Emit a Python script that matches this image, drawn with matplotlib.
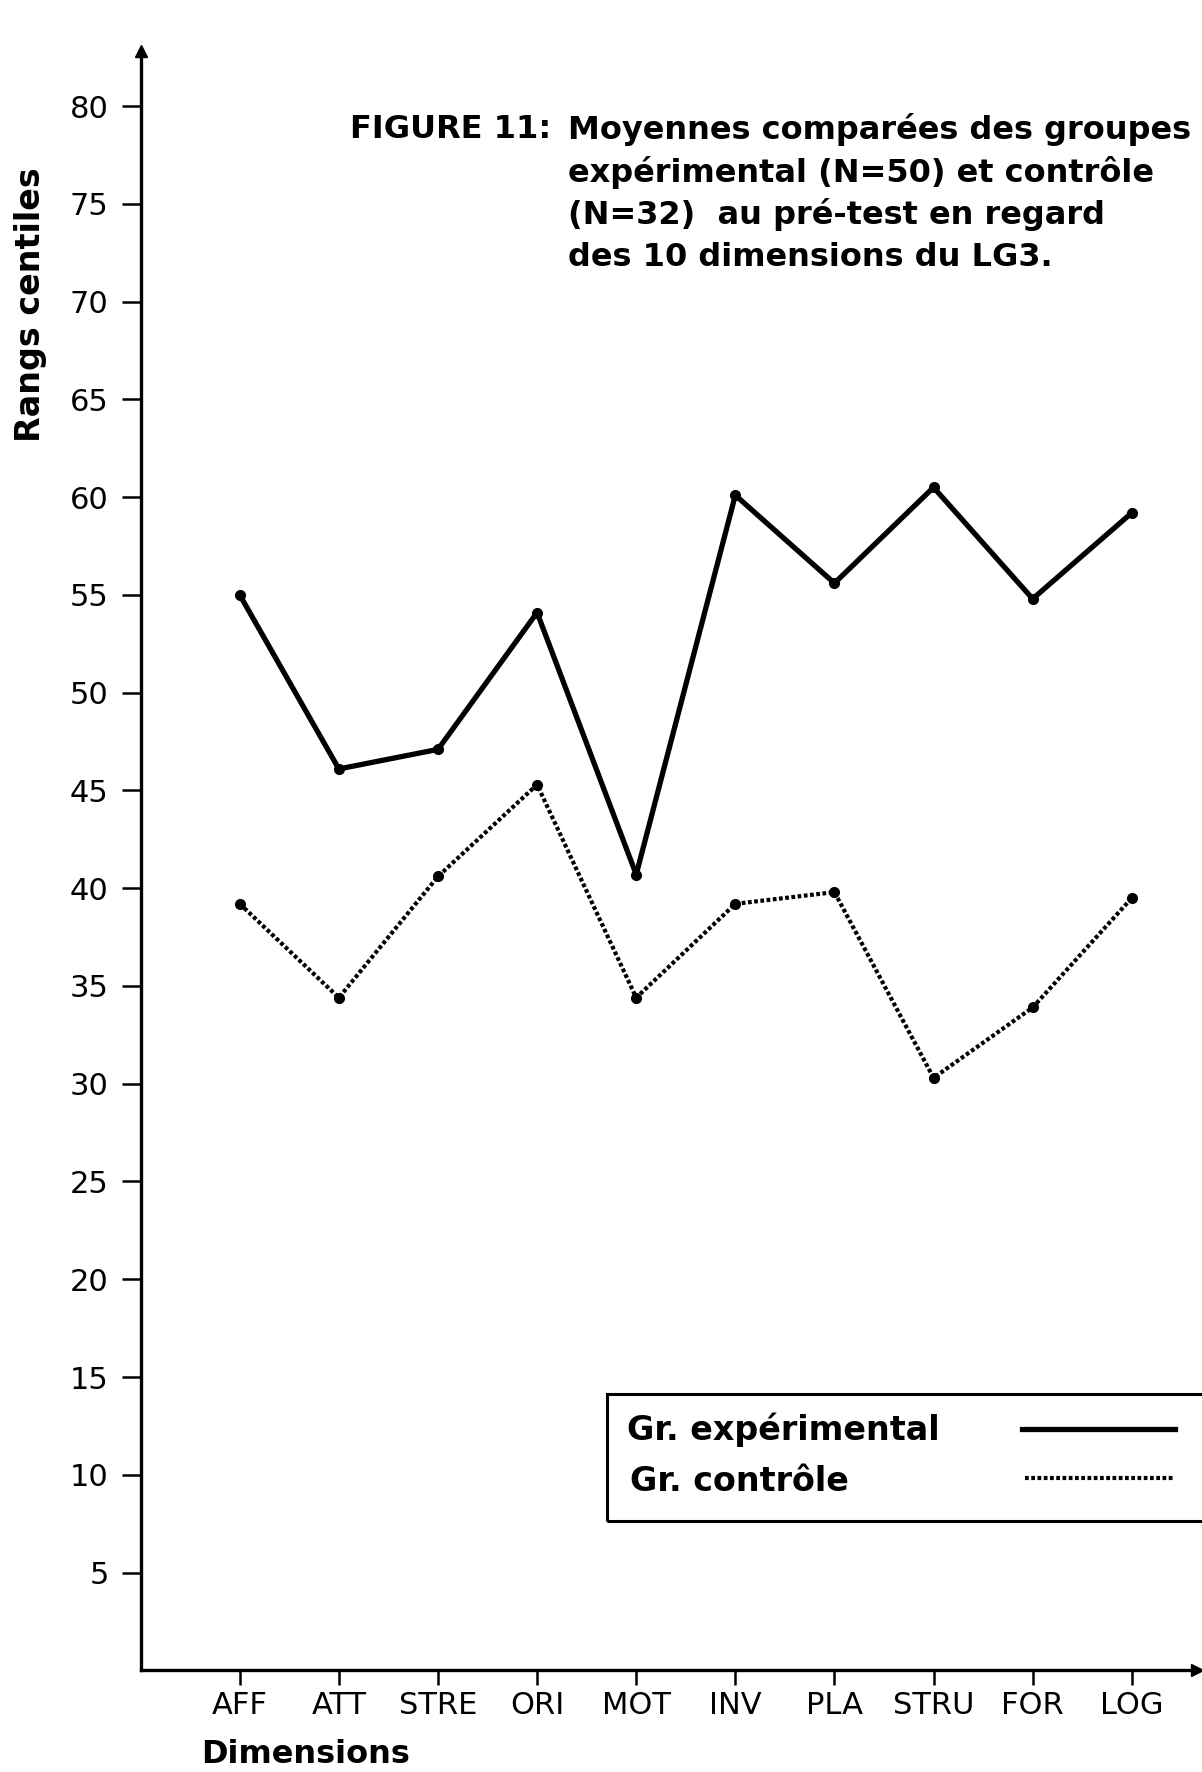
import matplotlib
matplotlib.use('Agg')
import matplotlib.pyplot as plt
from matplotlib.patches import Rectangle
from matplotlib.lines import Line2D

# data
dimensions = ['AFF', 'ATT', 'STRE', 'ORI', 'MOT', 'INV', 'PLA', 'STRU', 'FOR', 'LOG']
experimental = [55.0, 46.1, 47.1, 54.1, 40.7, 60.1, 55.6, 60.5, 54.8, 59.2]
controle = [39.2, 34.4, 40.6, 45.3, 34.4, 39.2, 39.8, 30.3, 33.9, 39.5]
yticks = [5, 10, 15, 20, 25, 30, 35, 40, 45, 50, 55, 60, 65, 70, 75, 80]

title_lines = ["Moyennes comparées des groupes",
               "expérimental (N=50) et contrôle",
               "(N=32)  au pré-test en regard",
               "des 10 dimensions du LG3."]

dots = (0, (0.9, 0.6))

fig = plt.figure(figsize=(12.02, 17.72), dpi=100)
ax = fig.add_axes([0.117, 0.0574, 0.879, 0.9136])

x = list(range(1, len(dimensions) + 1))
ax.plot(x, experimental, color='black', lw=3.8, marker='o', ms=7, solid_joinstyle='round')
ax.plot(x, controle, color='black', lw=3.0, linestyle=dots, marker='o', ms=7)

ax.set_xlim(0, 10.66)
ax.set_ylim(0, 82.8)
ax.set_xticks(x)
ax.set_xticklabels(dimensions, fontsize=22)
ax.set_yticks(yticks)
ax.set_yticklabels([str(v) for v in yticks], fontsize=22)
ax.tick_params(axis='y', direction='out', length=14, width=1.8, pad=9)
ax.tick_params(axis='x', direction='out', length=11, width=1.8, pad=4)

for s in ['top', 'right']:
    ax.spines[s].set_visible(False)
for s in ['left', 'bottom']:
    ax.spines[s].set_linewidth(2.4)

# arrow heads on the axes
ax.plot(0, 1, marker='^', color='black', ms=9, transform=ax.transAxes, clip_on=False)
ax.plot(1, 0, marker='>', color='black', ms=9, transform=ax.transAxes, clip_on=False)

# axis titles
fig.text(0.025, 0.828, "Rangs centiles", rotation=90, ha='center', va='center',
         fontsize=24, fontweight='bold')
fig.text(0.167, 0.0096, "Dimensions", ha='left', va='center',
         fontsize=23, fontweight='bold')

# figure caption
fig.text(0.2914, 0.9267, "FIGURE 11:", ha='left', va='center',
         fontsize=23, fontweight='bold')
for i, line in enumerate(title_lines):
    fig.text(0.4727, 0.9267 - i * 0.0240, line, ha='left', va='center',
             fontsize=23, fontweight='bold')

# legend box
fig.patches.append(Rectangle((0.5047, 0.1416), 0.52, 0.072, transform=fig.transFigure,
                             fill=False, edgecolor='black', lw=2.2))
fig.text(0.5216, 0.1933, "Gr. expérimental", ha='left', va='center',
         fontsize=24, fontweight='bold')
fig.text(0.5245, 0.1639, "Gr. contrôle", ha='left', va='center',
         fontsize=24, fontweight='bold')
fig.lines.append(Line2D([0.8506, 0.9774], [0.1933, 0.1933], transform=fig.transFigure,
                        color='black', lw=3.8))
fig.lines.append(Line2D([0.8530, 0.9774], [0.1658, 0.1658], transform=fig.transFigure,
                        color='black', lw=3.0, linestyle=dots))

fig.savefig('out.png', dpi=100)
